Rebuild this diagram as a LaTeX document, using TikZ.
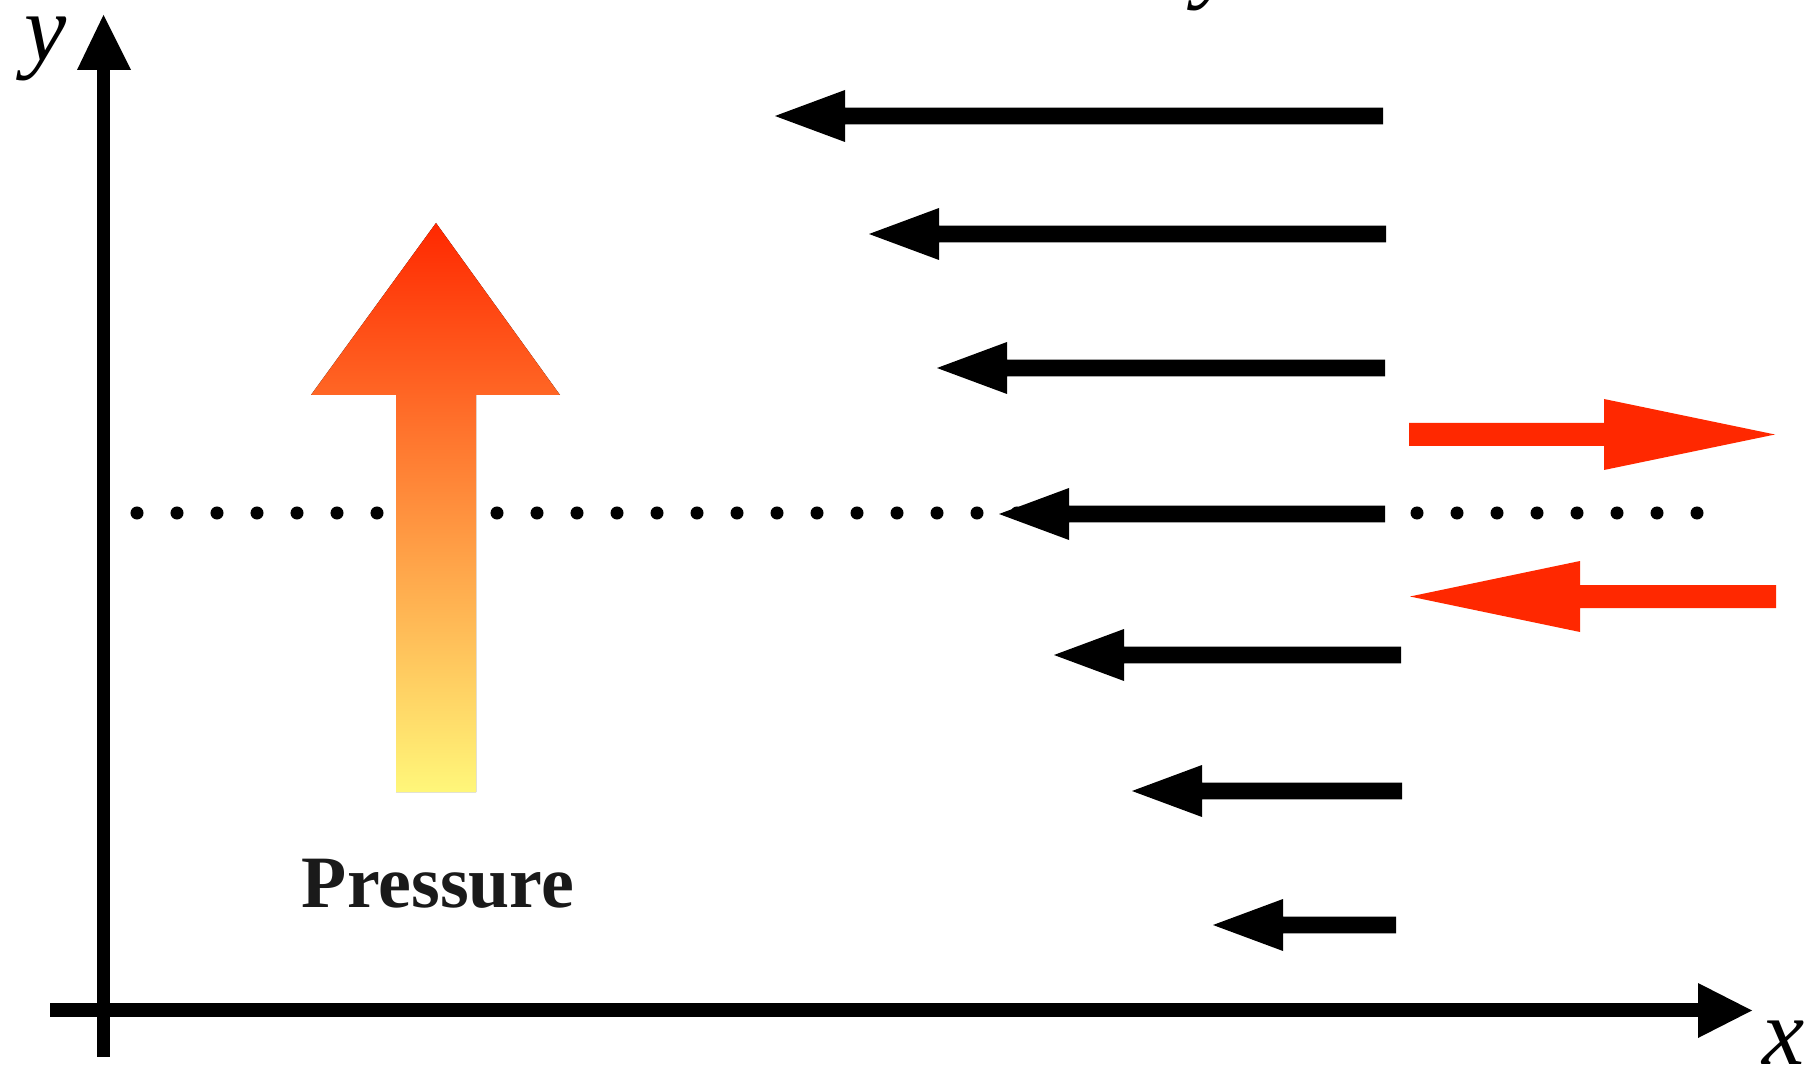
\documentclass[tikz,border=0pt]{standalone}
\usepackage{fontspec}
\setmainfont{Liberation Serif}
\usepackage{tikz}
\usetikzlibrary{positioning}

\definecolor{hotred}{RGB}{255,40,0}
\definecolor{warmyellow}{RGB}{255,247,122}
\definecolor{textgray}{RGB}{26,26,26}

\tikzset{
  flow/.style={fill=black},
  counter/.style={fill=hotred},
  axis/.style={fill=black},
  axislabel/.style={font=\fontsize{27}{30}\selectfont\itshape, inner sep=0pt, anchor=base},
}

\begin{document}
\begin{tikzpicture}[x=0.01cm, y=-0.01cm]
  \useasboundingbox (0,0) rectangle (1814,1070);

  % dotted level line
  \foreach \i in {0,...,39}
    \fill (137+40*\i,513) circle (0.065cm);

  % big pressure arrow, red to yellow
  \fill[top color=hotred, bottom color=warmyellow]
    (396,792) -- (396,395) -- (311,395) -- (436,223) -- (560,395)
    -- (476,395) -- (476,792) -- cycle;

  % velocity profile arrows: y / tip / tail
  \foreach \y/\tip/\tail in {116/775/1383, 234/869/1386, 368/937/1385,
      514/999/1385, 655/1054/1401, 791/1132/1402, 925/1213/1396}
    \fill[flow] (\tail,\y-8.3) -- (\tip+70,\y-8.3) -- (\tip+70,\y-26)
      -- (\tip,\y) -- (\tip+70,\y+26) -- (\tip+70,\y+8.3) -- (\tail,\y+8.3) -- cycle;

  % red arrows on the right
  \fill[counter] (1409,423) -- (1604,423) -- (1604,399) -- (1775,434.5)
    -- (1604,470) -- (1604,446) -- (1409,446) -- cycle;
  \fill[counter] (1776,585) -- (1580,585) -- (1580,561) -- (1410,596.5)
    -- (1580,632) -- (1580,608) -- (1776,608) -- cycle;

  % axes
  \fill[axis] (97,1057) rectangle (110,70);
  \fill[axis] (77,70) -- (103.5,15) -- (131,70) -- cycle;
  \fill[axis] (50,1003) rectangle (1698,1017);
  \fill[axis] (1698,983) -- (1752,1010.5) -- (1698,1038) -- cycle;

  % labels
  \node[axislabel] (ylabel) at (46,61) {y};
  \node[axislabel] (xlabel) at (1784,1064) {x};
  \node[axislabel] (toplabel) at (1217,-9) {y};
  \node[font=\fontsize{21}{25}\selectfont\bfseries, text=textgray,
    inner sep=0pt, anchor=base] (pressure) at (438,907) {Pressure};
\end{tikzpicture}
\end{document}
